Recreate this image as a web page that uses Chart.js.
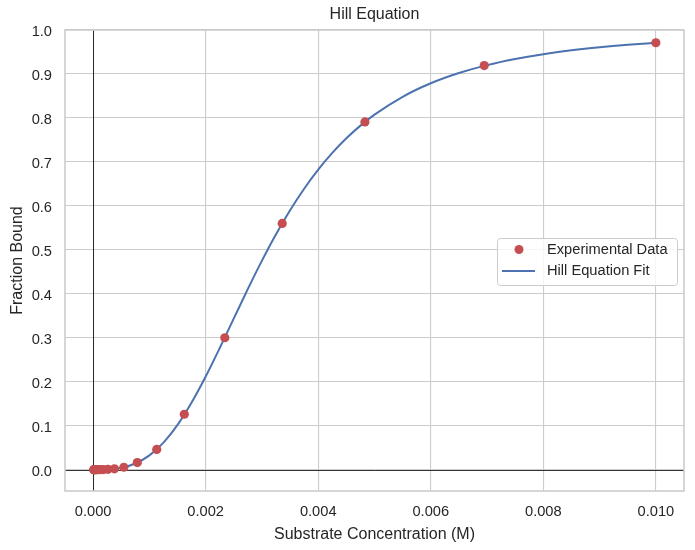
<!DOCTYPE html>
<html>
<head>
<meta charset="utf-8">
<script src="https://cdn.jsdelivr.net/npm/chart.js@4.4.1/dist/chart.umd.min.js"></script>
<style>
  html, body { margin: 0; padding: 0; background: #fff; }
  #wrap { width: 695px; height: 550px; }
</style>
</head>
<body>
<div id="wrap"><canvas id="chart" width="695" height="550"></canvas></div>
<script>
// experimental points (substrate conc, fraction bound)
const dataX = [0.0000100, 0.0000144, 0.0000207, 0.0000298, 0.0000428, 0.0000616, 0.0000886,
    0.000127, 0.000183, 0.000264, 0.000379, 0.000546, 0.000785, 0.00113, 0.00162,
    0.00234, 0.00336, 0.00483, 0.00695, 0.0100];
const dataY = [0.0, 0.0, 0.0, 0.0, 0.0, 0.0, 0.0, 0.0001, 0.0002, 0.0006, 0.0018, 0.0054,
    0.016, 0.046, 0.126, 0.300, 0.560, 0.791, 0.919, 0.971];

// fitted curve
const fitX = [0, 0.00025, 0.0005, 0.00075, 0.001, 0.00125, 0.0015, 0.00175, 0.002, 0.00225,
    0.0025, 0.00275, 0.003, 0.00325, 0.0035, 0.00375, 0.004, 0.00425, 0.0045, 0.00475,
    0.005, 0.0055, 0.006, 0.0065, 0.007, 0.0075, 0.008, 0.0085, 0.009, 0.0095, 0.01];
const fitY = [0, 0.0005, 0.0042, 0.0140, 0.0325, 0.0615, 0.1018, 0.1525, 0.2117, 0.2766,
    0.3440, 0.4111, 0.4754, 0.5354, 0.5900, 0.6390, 0.6824, 0.7204, 0.7536, 0.7825,
    0.8075, 0.8481, 0.8788, 0.9021, 0.9201, 0.9340, 0.9450, 0.9537, 0.9607, 0.9664, 0.9711];

const xTicks = [0, 0.002, 0.004, 0.006, 0.008, 0.010];
const yTicks = [0, 0.1, 0.2, 0.3, 0.4, 0.5, 0.6, 0.7, 0.8, 0.9, 1.0];

const FONT = '"Liberation Sans", Arial, sans-serif';
const TXT = '#262626';
const GRID = '#cccccc';

// zero lines, frame, title
const extras = {
    id: 'extras',
    beforeDatasetsDraw(chart) {
        const {ctx, chartArea: a, scales: {x, y}} = chart;
        ctx.save();
        ctx.strokeStyle = '#000';
        ctx.lineWidth = 0.8;
        const x0 = Math.round(x.getPixelForValue(0)) + 0.5;
        const y0 = Math.round(y.getPixelForValue(0)) + 0.5;
        ctx.beginPath();
        ctx.moveTo(x0, a.top); ctx.lineTo(x0, a.bottom);
        ctx.moveTo(a.left, y0); ctx.lineTo(a.right, y0);
        ctx.stroke();
        ctx.restore();
    },
    afterDraw(chart) {
        const {ctx, chartArea: a} = chart;
        ctx.save();
        ctx.strokeStyle = GRID;
        ctx.lineWidth = 1.6;
        ctx.strokeRect(a.left, a.top, a.right - a.left, a.bottom - a.top);

        ctx.fillStyle = TXT;
        ctx.font = '16px ' + FONT;
        ctx.textAlign = 'center';
        ctx.textBaseline = 'middle';
        ctx.fillText('Hill Equation', (a.left + a.right) / 2, 15);

        // legend, center right
        const w = 180, h = 47;
        const bx = a.right - 7 - w;
        const by = (a.top + a.bottom) / 2 + 1 - h / 2;
        ctx.fillStyle = 'rgba(255,255,255,0.8)';
        ctx.strokeStyle = GRID;
        ctx.lineWidth = 1;
        ctx.beginPath();
        ctx.roundRect(bx + 0.5, by + 0.5, w, h, 3);
        ctx.fill();
        ctx.stroke();

        const ds = chart.data.datasets;
        const rows = [by + 11.5, by + 33];
        ds.forEach((d, i) => {
            const ry = rows[i];
            if (d.showLine === false) {
                ctx.fillStyle = d.backgroundColor;
                ctx.beginPath();
                ctx.arc(bx + 22, ry, 4.5, 0, Math.PI * 2);
                ctx.fill();
            } else {
                ctx.strokeStyle = d.borderColor;
                ctx.lineWidth = 2;
                ctx.beginPath();
                ctx.moveTo(bx + 5, ry); ctx.lineTo(bx + 38, ry);
                ctx.stroke();
            }
            ctx.fillStyle = TXT;
            ctx.font = '14.67px ' + FONT;
            ctx.textAlign = 'left';
            ctx.fillText(d.label, bx + 50, ry);
        });
        ctx.restore();
    }
};

new Chart(document.getElementById('chart'), {
    type: 'scatter',
    data: {
        datasets: [{
            label: 'Experimental Data',
            data: dataX.map((v, i) => ({x: v, y: dataY[i]})),
            showLine: false,
            backgroundColor: '#c44e52',
            borderColor: '#c44e52',
            pointRadius: 4.6,
            borderWidth: 0,
            order: 1
        }, {
            label: 'Hill Equation Fit',
            type: 'line',
            data: fitX.map((v, i) => ({x: v, y: fitY[i]})),
            borderColor: '#4c72b0',
            backgroundColor: '#4c72b0',
            borderWidth: 2,
            pointRadius: 0,
            cubicInterpolationMode: 'monotone',
            fill: false,
            order: 2
        }]
    },
    options: {
        responsive: false,
        animation: false,
        layout: {padding: {top: 30, right: 11, left: 0, bottom: 0}},
        plugins: {legend: {display: false}, title: {display: false}, tooltip: {enabled: false}},
        scales: {
            x: {
                type: 'linear',
                min: -0.0005,
                max: 0.0105,
                afterFit(s) { s.height = 59; s.paddingLeft = 0; s.paddingRight = 0; },
                afterBuildTicks(s) { s.ticks = xTicks.map(v => ({value: v})); },
                ticks: {
                    padding: 12,
                    color: TXT,
                    font: {family: FONT, size: 14.67},
                    callback: v => v.toFixed(3)
                },
                grid: {color: GRID, lineWidth: 1.1, drawTicks: false},
                border: {display: false},
                title: {
                    display: true,
                    text: 'Substrate Concentration (M)',
                    color: TXT,
                    font: {family: FONT, size: 16},
                    padding: {top: 0, bottom: 6}
                }
            },
            y: {
                type: 'linear',
                min: -0.0486,
                max: 1.0,
                afterFit(s) { s.width = 65; s.paddingTop = 0; s.paddingBottom = 0; },
                afterBuildTicks(s) { s.ticks = yTicks.map(v => ({value: v})); },
                ticks: {
                    padding: 13,
                    labelOffset: 2,
                    color: TXT,
                    font: {family: FONT, size: 14.67},
                    callback: v => v.toFixed(1)
                },
                grid: {color: GRID, lineWidth: 1.1, drawTicks: false},
                border: {display: false},
                title: {
                    display: true,
                    text: 'Fraction Bound',
                    color: TXT,
                    font: {family: FONT, size: 16},
                    padding: {top: 8, bottom: 0}
                }
            }
        }
    },
    plugins: [extras]
});
</script>
</body>
</html>
